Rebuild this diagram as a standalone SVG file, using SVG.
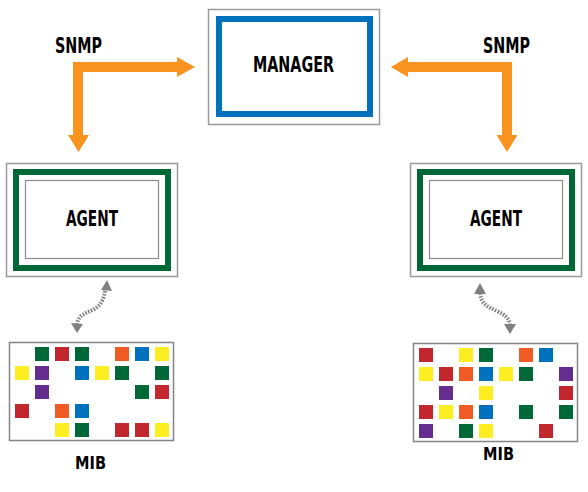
<svg xmlns="http://www.w3.org/2000/svg" width="588" height="492" viewBox="0 0 588 492">
<style>
.frame{fill:#fff;stroke:#9a9a9a;stroke-width:1.5}
.mib{fill:#fff;stroke:#858585;stroke-width:1.5}
.inner{fill:none;stroke:#8a8a8a;stroke-width:1.2}
.green{fill:none;stroke:#006837;stroke-width:6}
.blue{fill:none;stroke:#0071BC;stroke-width:6}
.lbl{font-family:"Liberation Sans Narrow","DejaVu Sans Condensed","Liberation Sans",sans-serif;font-weight:bold;fill:#000;text-anchor:middle}
.snmp{fill:none;stroke:#F7931E;stroke-width:10;stroke-linejoin:miter}
.head{fill:#F7931E}
.dot{fill:none;stroke:#808080;stroke-width:4;stroke-dasharray:1.6 1.4}
.dhead{fill:#808080}
.g{fill:#006837}.r{fill:#C1272D}.o{fill:#F15A24}.b{fill:#0071BC}.y{fill:#FCEE21}.p{fill:#662D91}
</style>
<rect width="588" height="492" fill="#fff"/>

<g id="manager">
<rect class="frame" x="208.5" y="9.5" width="171" height="115"/>
<rect class="blue" x="219" y="19" width="151" height="95"/>
<text class="lbl" x="293.5" y="72" font-size="22" textLength="81" lengthAdjust="spacingAndGlyphs">MANAGER</text>
</g>

<g id="agent-left">
<rect class="frame" x="6.5" y="163.5" width="171" height="113"/>
<rect class="green" x="16" y="172" width="152" height="96"/>
<rect class="inner" x="25.5" y="180.5" width="133" height="78"/>
<text class="lbl" x="92" y="226" font-size="22" textLength="52" lengthAdjust="spacingAndGlyphs">AGENT</text>
</g>

<g id="agent-right">
<rect class="frame" x="410.5" y="163.5" width="171" height="113"/>
<rect class="green" x="420" y="172" width="152" height="96"/>
<rect class="inner" x="429.5" y="180.5" width="133" height="78"/>
<text class="lbl" x="496" y="226" font-size="22" textLength="52" lengthAdjust="spacingAndGlyphs">AGENT</text>
</g>

<g id="mib-left">
<rect class="mib" x="9.5" y="342.5" width="164" height="98"/>
<rect class="g" x="35" y="347" width="14" height="14"/>
<rect class="r" x="55" y="347" width="14" height="14"/>
<rect class="g" x="75" y="347" width="14" height="14"/>
<rect class="o" x="115" y="347" width="14" height="14"/>
<rect class="b" x="135" y="347" width="14" height="14"/>
<rect class="y" x="155" y="347" width="14" height="14"/>
<rect class="y" x="15" y="366" width="14" height="14"/>
<rect class="p" x="35" y="366" width="14" height="14"/>
<rect class="b" x="75" y="366" width="14" height="14"/>
<rect class="y" x="95" y="366" width="14" height="14"/>
<rect class="g" x="115" y="366" width="14" height="14"/>
<rect class="g" x="155" y="366" width="14" height="14"/>
<rect class="p" x="35" y="385" width="14" height="14"/>
<rect class="g" x="135" y="385" width="14" height="14"/>
<rect class="r" x="155" y="385" width="14" height="14"/>
<rect class="r" x="15" y="404" width="14" height="14"/>
<rect class="o" x="55" y="404" width="14" height="14"/>
<rect class="b" x="75" y="404" width="14" height="14"/>
<rect class="y" x="55" y="423" width="14" height="14"/>
<rect class="g" x="75" y="423" width="14" height="14"/>
<rect class="r" x="115" y="423" width="14" height="14"/>
<rect class="r" x="135" y="423" width="14" height="14"/>
<rect class="y" x="155" y="423" width="14" height="14"/>
<text class="lbl" x="90.5" y="469" font-size="17" textLength="31" lengthAdjust="spacingAndGlyphs">MIB</text>
</g>

<g id="mib-right">
<rect class="mib" x="413.5" y="343.5" width="164" height="98"/>
<rect class="r" x="419" y="348" width="14" height="14"/>
<rect class="y" x="459" y="348" width="14" height="14"/>
<rect class="g" x="479" y="348" width="14" height="14"/>
<rect class="o" x="519" y="348" width="14" height="14"/>
<rect class="b" x="539" y="348" width="14" height="14"/>
<rect class="y" x="419" y="367" width="14" height="14"/>
<rect class="r" x="439" y="367" width="14" height="14"/>
<rect class="o" x="459" y="367" width="14" height="14"/>
<rect class="b" x="479" y="367" width="14" height="14"/>
<rect class="y" x="499" y="367" width="14" height="14"/>
<rect class="g" x="519" y="367" width="14" height="14"/>
<rect class="p" x="559" y="367" width="14" height="14"/>
<rect class="p" x="439" y="386" width="14" height="14"/>
<rect class="y" x="479" y="386" width="14" height="14"/>
<rect class="r" x="559" y="386" width="14" height="14"/>
<rect class="r" x="419" y="405" width="14" height="14"/>
<rect class="y" x="439" y="405" width="14" height="14"/>
<rect class="o" x="459" y="405" width="14" height="14"/>
<rect class="b" x="479" y="405" width="14" height="14"/>
<rect class="g" x="519" y="405" width="14" height="14"/>
<rect class="g" x="559" y="405" width="14" height="14"/>
<rect class="p" x="419" y="424" width="14" height="14"/>
<rect class="g" x="459" y="424" width="14" height="14"/>
<rect class="y" x="479" y="424" width="14" height="14"/>
<rect class="r" x="539" y="424" width="14" height="14"/>
<text class="lbl" x="498.5" y="460" font-size="17" textLength="31" lengthAdjust="spacingAndGlyphs">MIB</text>
</g>

<g id="connectors">
<path class="snmp" d="M178,67 H78 V136"/>
<polygon class="head" points="177,57 195,67 177,77"/>
<polygon class="head" points="68,135 89,135 78.5,152"/>
<text class="lbl" x="78.5" y="53" font-size="21" textLength="47" lengthAdjust="spacingAndGlyphs">SNMP</text>

<path class="snmp" d="M407,67 H507 V136"/>
<polygon class="head" points="408,57 391,67 408,77"/>
<polygon class="head" points="496.5,135 517.5,135 507,152"/>
<text class="lbl" x="506.5" y="53" font-size="21" textLength="47" lengthAdjust="spacingAndGlyphs">SNMP</text>

<path class="dot" d="M105,291 C103,305 96,309 88,312 C81,315 78,318 77,324"/>
<polygon class="dhead" points="107,280 112,291 101,290"/>
<polygon class="dhead" points="71,323 83,324 77,333"/>

<path class="dot" d="M480,293 C481,304 488,307 497,311 C505,315 509,318 510,325"/>
<polygon class="dhead" points="480,283 474,294 486,294"/>
<polygon class="dhead" points="504,324 516,324 510,334"/>
</g>
</svg>
